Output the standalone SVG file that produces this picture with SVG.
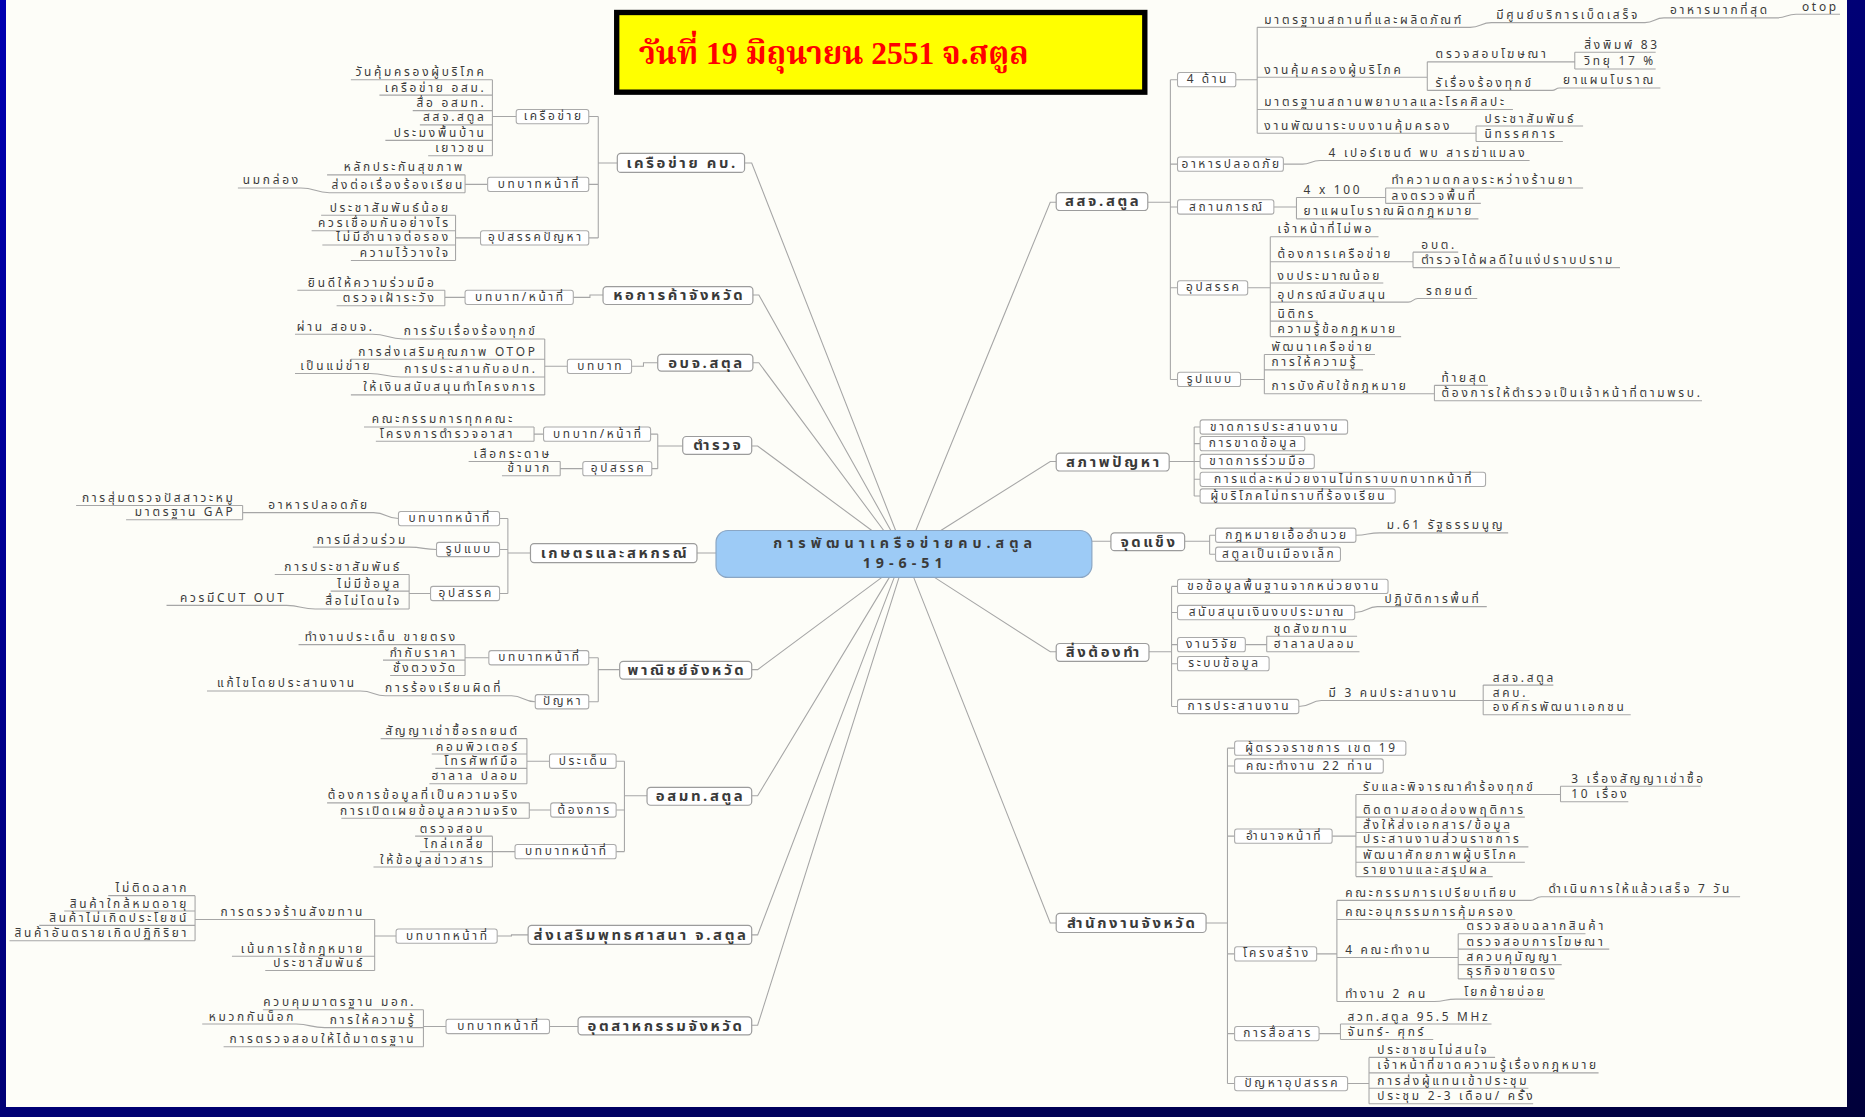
<svg xmlns="http://www.w3.org/2000/svg" width="1865" height="1117" viewBox="0 0 1865 1117">
<defs>
<linearGradient id="bg" x1="0" y1="0" x2="1" y2="1"><stop offset="0" stop-color="#0000b0"/><stop offset="1" stop-color="#00003a"/></linearGradient>
<style>
text{font-family:Tahoma,"Noto Sans Thai","Noto Sans Thai UI",Loma,Garuda,Waree,"DejaVu Sans","Noto Sans",sans-serif;fill:#3a3a3a}
.t{font-size:10px;letter-spacing:2.3px}
.r{text-anchor:end}
.b1 rect{fill:#fff;stroke:#9c9c9c;stroke-width:1}
.b1 text{font-size:12.5px;font-weight:bold;letter-spacing:2.2px;text-anchor:middle}
.b2 rect{fill:#fff;stroke:#aaa;stroke-width:0.9}
.b2 text{font-size:10px;letter-spacing:2.2px;text-anchor:middle}
.ct{font-size:12px;font-weight:bold;letter-spacing:4.2px;text-anchor:middle}
#connectors path{fill:none;stroke:#a6a6a6;stroke-width:0.9}
</style>
</defs>
<rect width="1865" height="1117" fill="url(#bg)"/>
<rect x="6" y="0" width="1841" height="1107" fill="#fdfdf8"/>
<g transform="scale(1.18941)">
<g id="connectors">
<path d="M626,137H632L753,446M633,248H638L749,446M633,305H638L743,446M632,375H637L733,446M632,563H637L742,485M632,669H637L748,485M632,786H637L752,485M632,862H637L756,485M888,170H883L770,446M888,388H883L791,446M918,455H934M888,548H883L785,485M888,776H883L768,485"/>
<path d="M519,137H503M503,98V200M503,98H495M503,155H495M503,200H495M434,98H414M414,67V131M414,67H295M414,80H319M414,93H347M414,105H353M414,118H324M414,131H360M410,155H391M391,147V162M391,147H275M391,162H277M277,162C265,162 265,158 253,158H200M404,200H383M383,181V219M383,181H270M383,194H262M383,206H271M383,219H295"/>
<path d="M507,248H496V250H482M391,250H374M374,244V257M374,244H250M374,257H283"/>
<path d="M553,305H541V308H531M477,308H458M458,285V332M458,285H339M458,302H295M458,317H337M458,332H295M339,285C326,285 326,281 313,281H248M337,317C324,317 324,314 311,314H248"/>
<path d="M574,375H553M553,365V394M553,365H547M553,394H548M457,365H449M449,359V371M449,359H306M449,371H316M490,394H471M471,388V400M471,388H394M471,400H422"/>
<path d="M602,465H586M446,465H427M427,436V499M427,436H420M427,462H420M427,499H420M335,436C325,436 325,431 314,431H221M221,431H204M204,425V437M204,425H64M204,437H106M367,462C356,462 356,460 344,460H263M362,499H344M344,483V512M344,483H231M344,497H278M344,512H265M265,512C253,512 253,509 241,509H140"/>
<path d="M521,563H503M503,553V590M503,553H495M503,590H495M411,553H391M391,542V568M391,542H251M391,555H322M391,568H328M450,590C440,590 440,585 430,585H324M324,585C314,585 314,581 303,581H174"/>
<path d="M544,669H525M525,640V716M525,640H518M525,681H518M525,716H518M462,640H443M443,621V659M443,621H320M443,634H363M443,646H366M443,659H361M463,681H445M445,675V688M445,675H275M445,688H287M433,716H414M414,703V729M414,703H349M414,716H353M414,729H314"/>
<path d="M444,786H430V787H418M333,787H315M315,773V816M315,773H180M315,804H195M315,816H223M180,773H164M164,753V791M164,753H91M164,766H54M164,778H33M164,791H8"/>
<path d="M486,863H462M375,863H356M356,849V880M356,849H221M356,864H273M356,880H188M273,864C261,864 261,861 249,861H170"/>
<path d="M965,170H984M984,67V319M984,67H990M984,138H990M984,174H990M984,242H990M984,319H990M1039,67H1057M1057,23V112M1057,23H1236M1236,23C1245,23 1245,19 1254,19H1383M1383,19C1391,19 1391,15 1399,15H1494M1494,15C1502,15 1502,12 1510,12H1547M1057,65H1200M1200,52V76M1200,52H1324M1324,44V58M1324,44H1392M1324,58H1392M1200,76H1305M1305,76C1308,76 1308,74 1311,74H1396M1057,92H1272M1057,112H1241M1241,106V119M1241,106H1331M1241,119H1314M1079,138H1095M1095,138C1102,138 1102,135 1110,135H1286M1071,174H1090M1090,166V184M1090,166H1165M1165,158V171M1165,158H1331M1165,171H1245M1090,184H1243M1049,242H1068M1068,199V283M1068,199H1159M1068,220H1188M1188,212V225M1188,212H1226M1188,225H1362M1068,238H1163M1068,254H1184M1184,254C1188,254 1188,251 1192,251H1242M1068,270H1108M1068,283H1178M1043,319H1063M1063,298V331M1063,298H1156M1063,311H1146M1063,331H1206M1206,324V337M1206,324H1251M1206,337H1431"/>
<path d="M983,388H1004M1004,359V417M1004,359H1009M1004,373H1009M1004,388H1009M1004,403H1009M1004,417H1009"/>
<path d="M996,455H1017M1017,450V466M1017,450H1022M1017,466H1022M1140,450C1150,450 1150,448 1160,448H1268"/>
<path d="M966,548H985M985,493V594M985,493H990M985,515H990M985,542H990M985,558H990M985,594H990M1139,515C1149,515 1149,510 1158,510H1250M1047,542H1065M1065,535V548M1065,535H1141M1065,548H1143M1092,594C1102,594 1102,589 1111,589H1286M1247,576V601M1247,576H1306M1247,601H1371"/>
<path d="M1014,776H1032M1032,629V911M1032,629H1038M1032,644H1038M1032,703H1038M1032,802H1038M1032,869H1038M1032,911H1038M1120,703H1140M1140,668V737M1140,668H1312M1312,661V674M1312,661H1430M1312,674H1369M1140,687H1282M1140,700H1269M1140,712H1285M1140,725H1282M1140,737H1255M1107,802H1124M1124,757V842M1124,757H1287M1287,757C1291,757 1291,754 1296,754H1463M1124,773H1274M1124,805H1226M1226,785V823M1226,785H1333M1226,798H1353M1226,811H1313M1226,823H1307M1124,842H1206M1206,842C1215,842 1215,840 1224,840H1299M1109,869H1127M1127,861V874M1127,861H1254M1127,874H1205M1133,911H1151M1151,889V928M1151,889H1257M1151,902H1344M1151,915H1285M1151,928H1289"/>
</g>
<g id="title"><rect x="518.5" y="10.5" width="444" height="67" fill="#ffff00" stroke="#000" stroke-width="4.5"/><text x="537" y="54" style="font-family:'Liberation Serif','Noto Serif Thai',Norasi,serif;font-size:26.5px;font-weight:bold;fill:#ff0000">วันที่ 19 มิถุนายน 2551 จ.สตูล</text></g>
<g id="center"><rect x="602" y="446" width="316" height="39.5" rx="10" fill="#9dcbf6" stroke="#8aa6c4" stroke-width="1"/><text class="ct" x="761" y="461">การพัฒนาเครือข่ายคบ.สตูล</text><text class="ct" x="761" y="477.5">19-6-51</text></g>
<g class="b1">
<g id="kb"><rect x="519" y="129" width="107" height="16" rx="3"/><text x="573.5" y="141">เครือข่าย คบ.</text></g>
<g id="hokan"><rect x="507" y="241" width="126" height="15" rx="3"/><text x="571" y="252.5">หอการค้าจังหวัด</text></g>
<g id="obj"><rect x="553" y="298" width="80" height="14" rx="3"/><text x="594" y="309.5">อบจ.สตุล</text></g>
<g id="police"><rect x="574" y="367" width="58" height="15" rx="3"/><text x="604" y="378.5">ตำรวจ</text></g>
<g id="kaset"><rect x="446" y="457" width="140" height="16" rx="3"/><text x="517" y="469.5">เกษตรและสหกรณ์</text></g>
<g id="panit"><rect x="521" y="556" width="111" height="15" rx="3"/><text x="577.5" y="567.5">พาณิชย์จังหวัด</text></g>
<g id="mcot"><rect x="544" y="662" width="88" height="15" rx="3"/><text x="589" y="673.5">อสมท.สตูล</text></g>
<g id="buddh"><rect x="444" y="778" width="188" height="16" rx="3"/><text x="539" y="790.5">ส่งเสริมพุทธศาสนา จ.สตูล</text></g>
<g id="indus"><rect x="486" y="855" width="146" height="15" rx="3"/><text x="560" y="866.5">อุตสาหกรรมจังหวัด</text></g>
<g id="ssj"><rect x="888" y="162" width="77" height="15" rx="3"/><text x="927.5" y="173.5">สสจ.สตูล</text></g>
<g id="sapap"><rect x="888" y="381" width="95" height="15" rx="3"/><text x="936.5" y="392.5">สภาพปัญหา</text></g>
<g id="jud"><rect x="934" y="448" width="62" height="15" rx="3"/><text x="966" y="459.5">จุดแข็ง</text></g>
<g id="todo"><rect x="888" y="541" width="78" height="15" rx="3"/><text x="928" y="552.5">สิ่งต้องทำ</text></g>
<g id="office"><rect x="888" y="768" width="126" height="16" rx="3"/><text x="952" y="780.5">สำนักงานจังหวัด</text></g>
</g>
<g class="b2">
<g id="b-kb1"><rect x="434" y="92" width="61" height="12" rx="2"/><text x="465.5" y="101">เครือข่าย</text></g>
<g id="b-kb2"><rect x="410" y="149" width="85" height="12" rx="2"/><text x="453.5" y="158">บทบาทหน้าที่</text></g>
<g id="b-kb3"><rect x="404" y="194" width="91" height="12" rx="2"/><text x="450.5" y="203">อุปสรรคปัญหา</text></g>
<g id="b-hk1"><rect x="391" y="244" width="91" height="12" rx="2"/><text x="437.5" y="253">บทบาท/หน้าที่</text></g>
<g id="b-ob1"><rect x="477" y="302" width="54" height="12" rx="2"/><text x="505" y="311">บทบาท</text></g>
<g id="b-po1"><rect x="457" y="359" width="90" height="12" rx="2"/><text x="503" y="368">บทบาท/หน้าที่</text></g>
<g id="b-po2"><rect x="490" y="388" width="58" height="12" rx="2"/><text x="520" y="397">อุปสรรค</text></g>
<g id="b-ks1"><rect x="335" y="430" width="85" height="12" rx="2"/><text x="378.5" y="439">บทบาทหน้าที่</text></g>
<g id="b-ks2"><rect x="367" y="456" width="53" height="12" rx="2"/><text x="394.5" y="465">รูปแบบ</text></g>
<g id="b-ks3"><rect x="362" y="493" width="58" height="12" rx="2"/><text x="392" y="502">อุปสรรค</text></g>
<g id="b-pn1"><rect x="411" y="547" width="84" height="12" rx="2"/><text x="454" y="556">บทบาทหน้าที่</text></g>
<g id="b-pn2"><rect x="450" y="584" width="45" height="12" rx="2"/><text x="473.5" y="593">ปัญหา</text></g>
<g id="b-mc1"><rect x="462" y="634" width="56" height="12" rx="2"/><text x="491" y="643">ประเด็น</text></g>
<g id="b-mc2"><rect x="463" y="675" width="55" height="12" rx="2"/><text x="491.5" y="684">ต้องการ</text></g>
<g id="b-mc3"><rect x="433" y="710" width="85" height="12" rx="2"/><text x="476.5" y="719">บทบาทหน้าที่</text></g>
<g id="b-bd1"><rect x="333" y="781" width="85" height="12" rx="2"/><text x="376.5" y="790">บทบาทหน้าที่</text></g>
<g id="b-in1"><rect x="375" y="857" width="87" height="12" rx="2"/><text x="419.5" y="866">บทบาทหน้าที่</text></g>
<g id="b-ss1"><rect x="990" y="61" width="49" height="12" rx="2"/><text x="1015.5" y="70">4 ด้าน</text></g>
<g id="b-ss2"><rect x="990" y="132" width="89" height="12" rx="2"/><text x="1035.5" y="141">อาหารปลอดภัย</text></g>
<g id="b-ss3"><rect x="990" y="168" width="81" height="12" rx="2"/><text x="1031.5" y="177">สถานการณ์</text></g>
<g id="b-ss4"><rect x="990" y="236" width="59" height="12" rx="2"/><text x="1020.5" y="245">อุปสรรค</text></g>
<g id="b-ss5"><rect x="990" y="313" width="53" height="12" rx="2"/><text x="1017.5" y="322">รูปแบบ</text></g>
<g id="b-sp1"><rect x="1009" y="353" width="124" height="12" rx="2"/><text x="1072" y="362">ขาดการประสานงาน</text></g>
<g id="b-sp2"><rect x="1009" y="367" width="88" height="12" rx="2"/><text x="1054" y="376">การขาดข้อมูล</text></g>
<g id="b-sp3"><rect x="1009" y="382" width="96" height="12" rx="2"/><text x="1058" y="391">ขาดการร่วมมือ</text></g>
<g id="b-sp4"><rect x="1009" y="397" width="240" height="12" rx="2"/><text x="1130" y="406">การแต่ละหน่วยงานไม่ทราบบทบาทหน้าที่</text></g>
<g id="b-sp5"><rect x="1009" y="411" width="164" height="12" rx="2"/><text x="1092" y="420">ผู้บริโภคไม่ทราบที่ร้องเรียน</text></g>
<g id="b-jd1"><rect x="1022" y="444" width="118" height="12" rx="2"/><text x="1082" y="453">กฎหมายเอื้ออำนวย</text></g>
<g id="b-jd2"><rect x="1022" y="460" width="105" height="12" rx="2"/><text x="1075.5" y="469">สตูลเป็นเมืองเล็ก</text></g>
<g id="b-td1"><rect x="990" y="487" width="177" height="12" rx="2"/><text x="1079.5" y="496">ขอข้อมูลพื้นฐานจากหน่วยงาน</text></g>
<g id="b-td2"><rect x="990" y="509" width="149" height="12" rx="2"/><text x="1065.5" y="518">สนับสนุนเงินงบประมาณ</text></g>
<g id="b-td3"><rect x="990" y="536" width="57" height="12" rx="2"/><text x="1019.5" y="545">งานวิจัย</text></g>
<g id="b-td4"><rect x="990" y="552" width="77" height="12" rx="2"/><text x="1029.5" y="561">ระบบข้อมูล</text></g>
<g id="b-td5"><rect x="990" y="588" width="102" height="12" rx="2"/><text x="1042" y="597">การประสานงาน</text></g>
<g id="b-of1"><rect x="1038" y="623" width="144" height="12" rx="2"/><text x="1111" y="632">ผู้ตรวจราชการ เขต 19</text></g>
<g id="b-of2"><rect x="1038" y="638" width="125" height="12" rx="2"/><text x="1101.5" y="647">คณะทำงาน 22 ท่าน</text></g>
<g id="b-of3"><rect x="1038" y="697" width="82" height="12" rx="2"/><text x="1080" y="706">อำนาจหน้าที่</text></g>
<g id="b-of4"><rect x="1038" y="796" width="69" height="12" rx="2"/><text x="1073.5" y="805">โครงสร้าง</text></g>
<g id="b-of5"><rect x="1038" y="863" width="71" height="12" rx="2"/><text x="1074.5" y="872">การสื่อสาร</text></g>
<g id="b-of6"><rect x="1038" y="905" width="95" height="12" rx="2"/><text x="1086.5" y="914">ปัญหาอุปสรรค</text></g>
</g>
<g class="t r">
<g id="l1"><text x="409" y="64">วันคุ้มครองผู้บริโภค</text></g>
<g id="l2"><text x="409" y="77">เครือข่าย อสม.</text></g>
<g id="l3"><text x="409" y="90">สื่อ อสมท.</text></g>
<g id="l4"><text x="409" y="102">สสจ.สตูล</text></g>
<g id="l5"><text x="409" y="115">ประมงพื้นบ้าน</text></g>
<g id="l6"><text x="409" y="128">เยาวชน</text></g>
<g id="l7"><text x="391" y="144">หลักประกันสุขภาพ</text></g>
<g id="l8"><text x="391" y="159">ส่งต่อเรื่องร้องเรียน</text></g>
<g id="l9"><text x="253" y="155">นมกล่อง</text></g>
<g id="l10"><text x="379" y="178">ประชาสัมพันธ์น้อย</text></g>
<g id="l11"><text x="379" y="191">ควรเชื่อมกันอย่างไร</text></g>
<g id="l12"><text x="379" y="203">ไม่มีอำนาจต่อรอง</text></g>
<g id="l13"><text x="379" y="216">ความไว้วางใจ</text></g>
<g id="l14"><text x="367" y="241">ยินดีให้ความร่วมมือ</text></g>
<g id="l15"><text x="367" y="254">ตรวจเฝ้าระวัง</text></g>
<g id="l16"><text x="452" y="282">การรับเรื่องร้องทุกข์</text></g>
<g id="l17"><text x="452" y="299">การส่งเสริมคุณภาพ OTOP</text></g>
<g id="l18"><text x="452" y="314">การประสานกับอปท.</text></g>
<g id="l19"><text x="452" y="329">ให้เงินสนับสนุนทำโครงการ</text></g>
<g id="l20"><text x="315" y="278">ผ่าน สอบจ.</text></g>
<g id="l21"><text x="313" y="311">เป็นแม่ข่าย</text></g>
<g id="l22"><text x="433" y="356">คณะกรรมการทุกคณะ</text></g>
<g id="l23"><text x="433" y="368">โครงการตำรวจอาสา</text></g>
<g id="l24"><text x="464" y="385">เสือกระดาษ</text></g>
<g id="l25"><text x="464" y="397">ช้ามาก</text></g>
<g id="l26"><text x="311" y="428">อาหารปลอดภัย</text></g>
<g id="l27"><text x="198" y="422">การสุ่มตรวจปัสสาวะหมู</text></g>
<g id="l28"><text x="198" y="434">มาตรฐาน GAP</text></g>
<g id="l29"><text x="343" y="457">การมีส่วนร่วม</text></g>
<g id="l30"><text x="338" y="480">การประชาสัมพันธ์</text></g>
<g id="l31"><text x="338" y="494">ไม่มีข้อมูล</text></g>
<g id="l32"><text x="338" y="509">สื่อไม่โดนใจ</text></g>
<g id="l33"><text x="241" y="506">ควรมีCUT OUT</text></g>
<g id="l34"><text x="385" y="539">ทำงานประเด็น ขายตรง</text></g>
<g id="l35"><text x="385" y="552">กำกับราคา</text></g>
<g id="l36"><text x="385" y="565">ชั่งตวงวัด</text></g>
<g id="l37"><text x="423" y="582">การร้องเรียนผิดที่</text></g>
<g id="l38"><text x="300" y="578">แก้ไขโดยประสานงาน</text></g>
<g id="l39"><text x="437" y="618">สัญญาเช่าซื้อรถยนต์</text></g>
<g id="l40"><text x="437" y="631">คอมพิวเตอร์</text></g>
<g id="l41"><text x="437" y="643">โทรศัพท์มือ</text></g>
<g id="l42"><text x="437" y="656">ฮาลาล ปลอม</text></g>
<g id="l43"><text x="437" y="672">ต้องการข้อมูลที่เป็นความจริง</text></g>
<g id="l44"><text x="437" y="685">การเปิดเผยข้อมูลความจริง</text></g>
<g id="l45"><text x="408" y="700">ตรวจสอบ</text></g>
<g id="l46"><text x="408" y="713">ไกล่เกลี่ย</text></g>
<g id="l47"><text x="408" y="726">ให้ข้อมูลข่าวสาร</text></g>
<g id="l48"><text x="307" y="770">การตรวจร้านสังฆทาน</text></g>
<g id="l49"><text x="307" y="801">เน้นการใช้กฎหมาย</text></g>
<g id="l50"><text x="307" y="813">ประชาสัมพันธ์</text></g>
<g id="l51"><text x="159" y="750">ไม่ติดฉลาก</text></g>
<g id="l52"><text x="159" y="763">สินค้าใกล้หมดอายุ</text></g>
<g id="l53"><text x="159" y="775">สินค้าไม่เกิดประโยชน์</text></g>
<g id="l54"><text x="159" y="788">สินค้าอันตรายเกิดปฏิกิริยา</text></g>
<g id="l55"><text x="350" y="846">ควบคุมมาตรฐาน มอก.</text></g>
<g id="l56"><text x="350" y="861">การให้ความรู้</text></g>
<g id="l57"><text x="350" y="877">การตรวจสอบให้ได้มาตรฐาน</text></g>
<g id="l58"><text x="249" y="858">หมวกกันน็อก</text></g>
</g>
<g class="t">
<g id="r1"><text x="1063" y="20">มาตรฐานสถานที่และผลิตภัณฑ์</text></g>
<g id="r2"><text x="1258" y="16">มีศูนย์บริการเบ็ดเสร็จ</text></g>
<g id="r3"><text x="1404" y="12">อาหารมากที่สุด</text></g>
<g id="r4"><text x="1515" y="9">otop</text></g>
<g id="r5"><text x="1063" y="62">งานคุ้มครองผู้บริโภค</text></g>
<g id="r6"><text x="1207" y="49">ตรวจสอบโฆษณา</text></g>
<g id="r7"><text x="1332" y="41">สิ่งพิมพ์ 83</text></g>
<g id="r8"><text x="1332" y="55">วิทยุ 17 %</text></g>
<g id="r9"><text x="1207" y="73">รัเรื่องร้องทุกข์</text></g>
<g id="r10"><text x="1314" y="71">ยาแผนโบราณ</text></g>
<g id="r11"><text x="1063" y="89">มาตรฐานสถานพยาบาลและโรคศิลปะ</text></g>
<g id="r12"><text x="1063" y="109">งานพัฒนาระบบงานคุ้มครอง</text></g>
<g id="r13"><text x="1248" y="103">ประชาสัมพันธ์</text></g>
<g id="r14"><text x="1248" y="116">นิทรรศการ</text></g>
<g id="r15"><text x="1117" y="132">4 เปอร์เซนต์ พบ สารฆ่าแมลง</text></g>
<g id="r16"><text x="1096" y="163">4 x 100</text></g>
<g id="r17"><text x="1170" y="155">ทำความตกลงระหว่างร้านยา</text></g>
<g id="r18"><text x="1170" y="168">ลงตรวจพื้นที่</text></g>
<g id="r19"><text x="1096" y="181">ยาแผนโบราณผิดกฎหมาย</text></g>
<g id="r20"><text x="1074" y="196">เจ้าหน้าที่ไม่พอ</text></g>
<g id="r21"><text x="1074" y="217">ต้องการเครือข่าย</text></g>
<g id="r22"><text x="1195" y="209">อบต.</text></g>
<g id="r23"><text x="1195" y="222">ตำรวจได้ผลดีในแง่ปราบปราม</text></g>
<g id="r24"><text x="1074" y="235">งบประมาณน้อย</text></g>
<g id="r25"><text x="1074" y="251">อุปกรณ์สนับสนุน</text></g>
<g id="r26"><text x="1199" y="248">รถยนต์</text></g>
<g id="r27"><text x="1074" y="267">นิติกร</text></g>
<g id="r28"><text x="1074" y="280">ความรู้ข้อกฎหมาย</text></g>
<g id="r29"><text x="1069" y="295">พัฒนาเครือข่าย</text></g>
<g id="r30"><text x="1069" y="308">การให้ความรู้</text></g>
<g id="r31"><text x="1069" y="328">การบังคับใช้กฎหมาย</text></g>
<g id="r32"><text x="1212" y="321">ท้ายสุด</text></g>
<g id="r33"><text x="1212" y="334">ต้องการให้ตำรวจเป็นเจ้าหน้าที่ตามพรบ.</text></g>
<g id="r34"><text x="1166" y="445">ม.61 รัฐธรรมนูญ</text></g>
<g id="r35"><text x="1164" y="507">ปฏิบัติการพื้นที่</text></g>
<g id="r36"><text x="1071" y="532">ชุดสังฆทาน</text></g>
<g id="r37"><text x="1071" y="545">ฮาลาลปลอม</text></g>
<g id="r38"><text x="1117" y="586">มี 3 คนประสานงาน</text></g>
<g id="r39"><text x="1255" y="573">สสจ.สตูล</text></g>
<g id="r40"><text x="1255" y="586">สคบ.</text></g>
<g id="r41"><text x="1255" y="598">องค์กรพัฒนาเอกชน</text></g>
<g id="r42"><text x="1146" y="665">รับและพิจารณาคำร้องทุกข์</text></g>
<g id="r43"><text x="1321" y="658">3 เรื่องสัญญาเช่าซื้อ</text></g>
<g id="r44"><text x="1321" y="671">10 เรื่อง</text></g>
<g id="r45"><text x="1146" y="684">ติดตามสอดส่องพฤติการ</text></g>
<g id="r46"><text x="1146" y="697">สั่งให้ส่งเอกสาร/ข้อมูล</text></g>
<g id="r47"><text x="1146" y="708.5">ประสานงานส่วนราชการ</text></g>
<g id="r48"><text x="1146" y="722.5">พัฒนาศักยภาพผู้บริโภค</text></g>
<g id="r49"><text x="1146" y="734.5">รายงานและสรุปผล</text></g>
<g id="r50"><text x="1131" y="754">คณะกรรมการเปรียบเทียบ</text></g>
<g id="r51"><text x="1302" y="751">ดำเนินการให้แล้วเสร็จ 7 วัน</text></g>
<g id="r52"><text x="1131" y="770">คณะอนุกรรมการคุ้มครอง</text></g>
<g id="r53"><text x="1131" y="802">4 คณะทำงาน</text></g>
<g id="r54"><text x="1233" y="782">ตรวจสอบฉลากสินค้า</text></g>
<g id="r55"><text x="1233" y="795">ตรวจสอบการโฆษณา</text></g>
<g id="r56"><text x="1233" y="808">สควบคุมัญญา</text></g>
<g id="r57"><text x="1233" y="820">ธุรกิจขายตรง</text></g>
<g id="r58"><text x="1131" y="839">ทำงาน 2 คน</text></g>
<g id="r59"><text x="1231" y="837">โยกย้ายบ่อย</text></g>
<g id="r60"><text x="1133" y="858">สวท.สตูล 95.5 MHz</text></g>
<g id="r61"><text x="1133" y="871">จันทร์- ศุกร์</text></g>
<g id="r62"><text x="1158" y="886">ประชาชนไม่สนใจ</text></g>
<g id="r63"><text x="1158" y="899">เจ้าหน้าที่ขาดความรู้เรื่องกฎหมาย</text></g>
<g id="r64"><text x="1158" y="912">การส่งผู้แทนเข้าประชุม</text></g>
<g id="r65"><text x="1158" y="925">ประชุม 2-3 เดือน/ ครั้ง</text></g>
</g>
</g>
</svg>
